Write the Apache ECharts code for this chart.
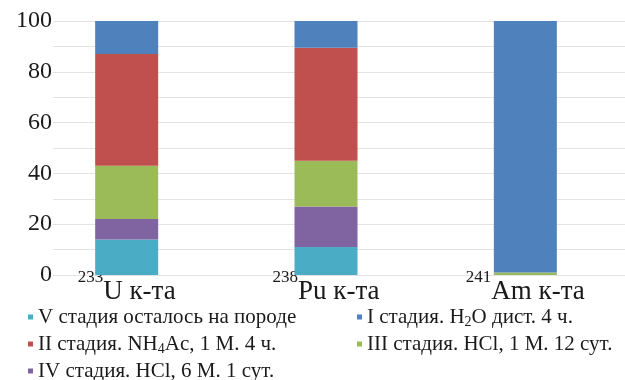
<!DOCTYPE html>
<html>
<head>
<meta charset="utf-8">
<script src="https://cdn.jsdelivr.net/npm/echarts@6/dist/echarts.min.js"></script>
<style>
  html, body { margin: 0; padding: 0; background: #ffffff; }
  #chart { width: 625px; height: 380px; }
</style>
</head>
<body>
<div id="chart"></div>
<script>
// Fractions of each radionuclide leached at each stage, %
const categories = ['233U к-та', '238Pu к-та', '241Am к-та'];
const stageV   = [14, 11, 0];     // remained on the rock
const stageIV  = [8, 16, 0];
const stageIII = [21, 18, 1];
const stageII  = [44, 44.5, 0];
const stageI   = [13, 10.5, 99];

const yTicks = [0, 20, 40, 60, 80, 100];

// Series names; "_N" marks a subscript digit
const nameV   = 'V стадия осталось на породе';
const nameI   = 'I стадия. H_2O дист. 4 ч.';
const nameII  = 'II стадия. NH_4Ac, 1 M. 4 ч.';
const nameIII = 'III стадия. HCl, 1 M. 12 сут.';
const nameIV  = 'IV стадия. HCl, 6 M. 1 сут.';

const colors = {
  V: '#4bacc6', I: '#4f81bd', II: '#c0504d', III: '#9bbb59', IV: '#8064a2'
};

const serif = 'Liberation Serif';
const ink = '#1a1a1a';

function legendText(name) {
  return '{t|' + name.replace(/_(\d)/g, '}{sub|$1}{t|') + '}';
}

const legendCommon = {
  orient: 'vertical',
  icon: 'rect',
  itemWidth: 5,
  itemHeight: 5,
  itemGap: 3,
  top: 300,
  height: 120,
  formatter: legendText,
  textStyle: {
    fontFamily: serif, fontSize: 21, color: ink, lineHeight: 24,
    rich: {
      t: { fontFamily: serif, fontSize: 21, color: ink, lineHeight: 24 },
      sub: { fontFamily: serif, fontSize: 14, color: ink, verticalAlign: 'bottom', lineHeight: 24, padding: [9, 0, 0, 0] }
    }
  }
};

function makeSeries(name, data, color) {
  return {
    name: name, type: 'bar', stack: 'total', data: data,
    barWidth: 63, xAxisIndex: 0, yAxisIndex: 0,
    itemStyle: { color: color },
    emphasis: { disabled: true }
  };
}

const chart = echarts.init(document.getElementById('chart'), null, { renderer: 'canvas' });
chart.setOption({
  animation: false,
  textStyle: { fontFamily: serif },
  grid: [
    { left: 27, width: 605, top: 21, bottom: 105 },
    { left: 53, right: 0, top: 21, bottom: 105 }
  ],
  legend: [
    Object.assign({}, legendCommon, { left: 23, data: [nameV, nameII, nameIV] }),
    Object.assign({}, legendCommon, { left: 352, data: [nameI, nameIII] })
  ],
  xAxis: [
    {
      type: 'category', gridIndex: 0, data: categories,
      axisLine: { show: false }, axisTick: { show: false },
      axisLabel: {
        margin: -6,
        interval: 0,
        fontFamily: serif, fontSize: 27, color: ink, lineHeight: 46,
        formatter: function (v) {
          const m = v.match(/^(\d+)(.*)$/);
          return '{sup|' + m[1] + '}' + m[2];
        },
        rich: {
          sup: { fontFamily: serif, fontSize: 17, color: ink, verticalAlign: 'top', lineHeight: 12 }
        }
      }
    },
    { type: 'value', gridIndex: 1, min: 0, max: 1, show: false }
  ],
  yAxis: [
    { type: 'value', gridIndex: 0, min: 0, max: 100, show: false, splitLine: { show: false } },
    {
      type: 'value', gridIndex: 1, min: 0, max: 100, interval: 10,
      axisLine: { show: false }, axisTick: { show: false },
      splitLine: { lineStyle: { color: '#e3e3e3', width: 1 } },
      axisLabel: {
        margin: 1,
        fontFamily: serif, fontSize: 24, color: ink,
        formatter: function (v) { return yTicks.indexOf(v) >= 0 ? String(v) : ''; }
      }
    }
  ],
  series: [
    makeSeries(nameV, stageV, colors.V),
    makeSeries(nameIV, stageIV, colors.IV),
    makeSeries(nameIII, stageIII, colors.III),
    makeSeries(nameII, stageII, colors.II),
    makeSeries(nameI, stageI, colors.I)
  ]
});
</script>
</body>
</html>
